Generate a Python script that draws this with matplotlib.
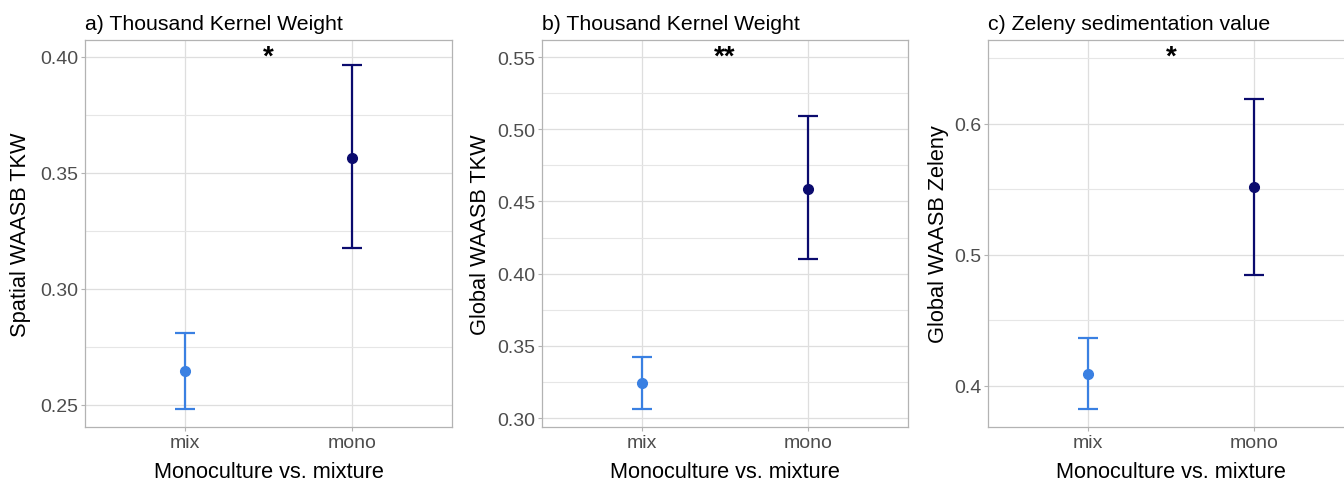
import numpy as np
import matplotlib.pyplot as plt
from matplotlib.ticker import MultipleLocator

plt.rcParams['font.family'] = ['Liberation Sans', 'DejaVu Sans']

# groups and their colours
groups = ['mix', 'mono']
group_colors = ['#3A80E2', '#0B0B6E']

# panel texts
titles = ['a) Thousand Kernel Weight', 'b) Thousand Kernel Weight', 'c) Zeleny sedimentation value']
ylabels = ['Spatial WAASB TKW', 'Global WAASB TKW', 'Global WAASB Zeleny']
xlabel = 'Monoculture vs. mixture'
signif = ['*', '**', '*']

# means and confidence limits (mix, mono)
means = [[0.2647, 0.3565], [0.3242, 0.4586], [0.4089, 0.5514]]
lower = [[0.2484, 0.3177], [0.3065, 0.4104], [0.3824, 0.4845]]
upper = [[0.2810, 0.3966], [0.3423, 0.5091], [0.4364, 0.6189]]

# axis setup per panel
ylims = [(0.2405, 0.4073), (0.2938, 0.5618), (0.3685, 0.6639)]
ymajor = [0.05, 0.05, 0.1]
star_y = [0.3970, 0.5452, 0.6456]

fig = plt.figure(figsize=(13.44, 4.81), dpi=100)
W, H = 1344, 481
boxes = [(85, 452), (542, 908), (988, 1354)]   # pixel left/right of each panel
ylab_x = [31, 491, 949]
top, bottom = 41, 428

for i, (l, r) in enumerate(boxes):
    ax = fig.add_axes([l / W, (H - bottom) / H, (r - l) / W, (bottom - top) / H])
    x = np.arange(1, len(groups) + 1)
    for j in range(len(groups)):
        m = means[i][j]
        ax.errorbar(x[j], m, yerr=[[m - lower[i][j]], [upper[i][j] - m]],
                    fmt='o', color=group_colors[j], ms=7, lw=1.6,
                    capsize=7, capthick=1.6, zorder=3)
    ax.set_xlim(0.4, 2.6)
    ax.set_ylim(*ylims[i])
    ax.set_xticks(x)
    ax.set_xticklabels(groups)
    ax.yaxis.set_major_locator(MultipleLocator(ymajor[i]))
    ax.yaxis.set_minor_locator(MultipleLocator(ymajor[i] / 2))
    if ymajor[i] < 0.1:
        ax.yaxis.set_major_formatter(plt.FormatStrFormatter('%.2f'))
    else:
        ax.yaxis.set_major_formatter(plt.FormatStrFormatter('%.1f'))
    ax.grid(True, which='major', color='#DEDEDE', lw=0.9, zorder=0)
    ax.grid(True, which='minor', axis='y', color='#E6E6E6', lw=0.8, zorder=0)
    ax.set_axisbelow(True)
    for s in ax.spines.values():
        s.set_color('#B3B3B3')
        s.set_linewidth(0.9)
    ax.tick_params(which='major', length=3, width=0.8, color='#B3B3B3',
                   labelsize=14, labelcolor='#4D4D4D', pad=2)
    ax.tick_params(which='minor', length=0)
    ax.set_title(titles[i], loc='left', fontsize=15.3, pad=8)
    ax.set_xlabel(xlabel, fontsize=15.7, labelpad=7)
    ax.set_ylabel(ylabels[i], fontsize=15.7)
    ax.yaxis.set_label_coords((ylab_x[i] - l) / (r - l), 0.5)
    ax.text(1.5, star_y[i], signif[i], ha='center', va='baseline',
            fontsize=20, fontweight='bold', color='black')

fig.savefig('out.png', dpi=100)
